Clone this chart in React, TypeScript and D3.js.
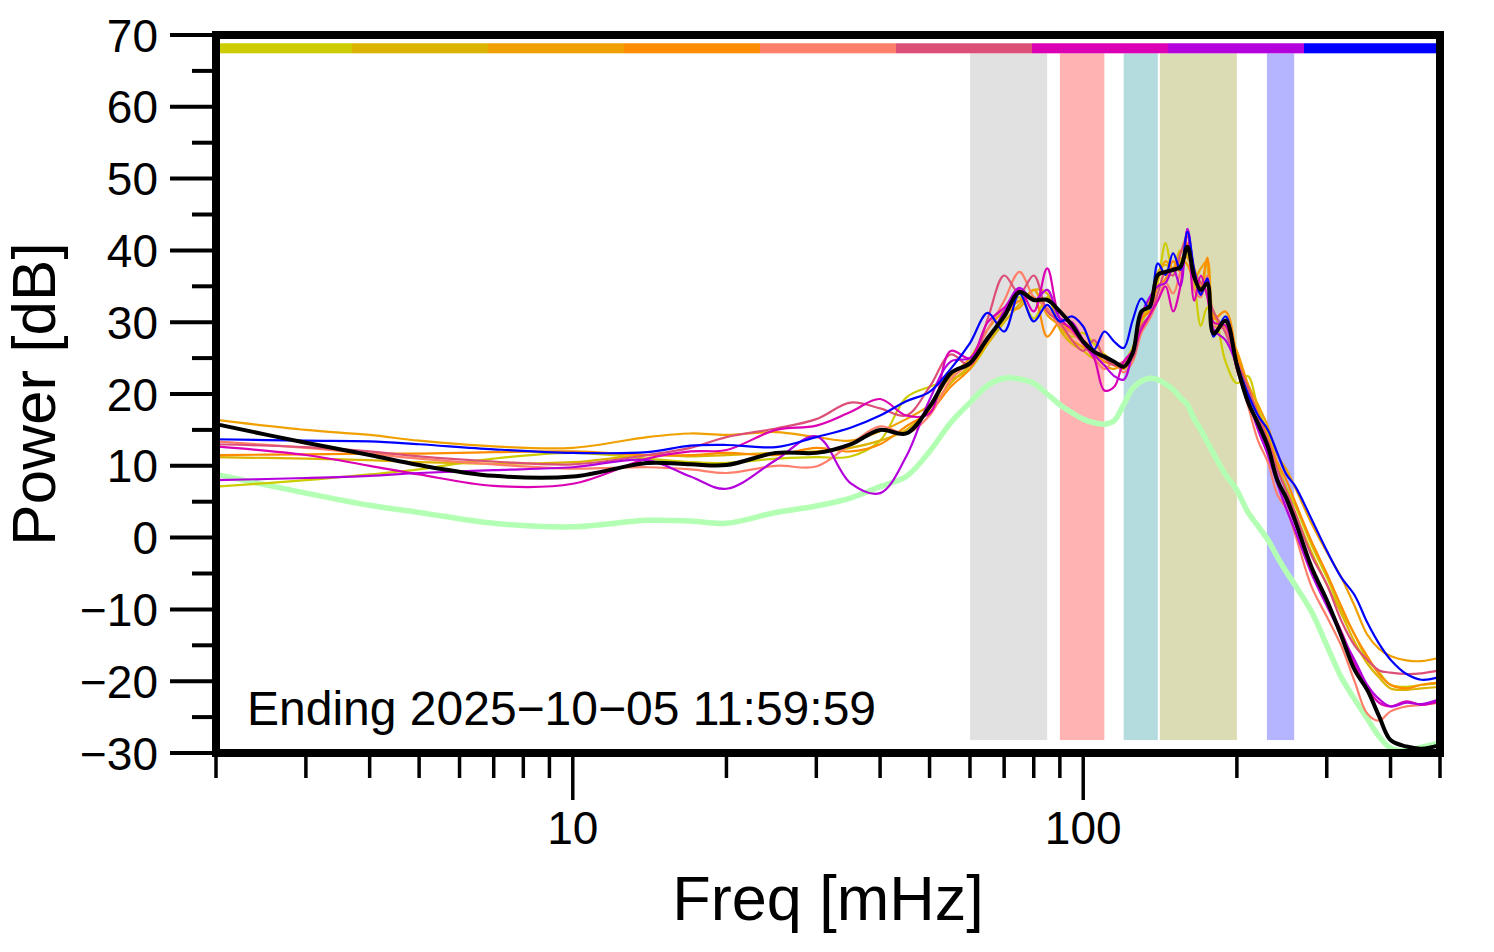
import * as d3 from 'd3';

// frequency grid [mHz] shared by all spectra
const FREQ = [
  2, 3, 4, 5, 7, 10, 14, 17, 20, 25, 30, 35, 40, 45, 50, 55, 60, 65, 70, 75,
  80, 85, 90, 95, 100, 105, 110, 115, 120, 125, 130, 135, 140, 145, 150, 155, 160, 165, 170, 175,
  180, 190, 200, 210, 220, 230, 240, 250, 260, 280, 300, 320, 340, 360, 380, 400, 430, 460, 500,
];

// daily spectra [dB], oldest first
const DAY_1 = [
  7.1, 8.0, 8.8, 9.5, 11.0, 11.8, 11.0, 10.5, 10.4, 11.0, 11.2, 11.3, 13.5, 19.5, 21.0, 22.0, 23.5, 27.0, 30.5, 33.5,
  30.5, 33.5, 29.5, 28.0, 28.5, 27.0, 25.5, 24.0, 24.5, 26.5, 30.0, 32.0, 35.5, 41.0, 37.0, 38.5, 39.5, 35.5, 29.5, 32.0,
  31.5, 24.5, 21.5, 22.5, 18.0, 14.5, 10.0, 7.0, 4.5, -1.0, -5.5, -10.0, -13.5, -17.0, -18.8, -20.5, -20.8, -20.5, -20.3,
];
const DAY_2 = [
  11.2, 11.0, 10.8, 10.5, 10.3, 10.5, 11.5, 11.3, 11.5, 11.8, 12.0, 12.5, 13.5, 15.0, 18.0, 21.5, 24.0, 27.0, 30.0, 32.5,
  34.5, 34.0, 29.0, 27.0, 26.0, 25.0, 25.5, 24.0, 24.0, 26.0, 30.5, 32.5, 37.0, 38.0, 37.5, 40.0, 39.0, 37.0, 34.0, 38.5,
  30.0, 29.5, 24.5, 20.5, 17.0, 13.5, 10.0, 6.5, 3.5, -2.0, -6.5, -10.5, -14.5, -17.5, -19.5, -21.0, -21.2, -21.0, -20.8,
];
const DAY_3 = [
  16.4, 15.0, 14.3, 13.5, 12.7, 12.5, 14.0, 14.5, 14.3, 14.7, 14.0, 13.5, 14.8, 16.5, 18.5, 22.5, 25.0, 29.0, 31.5, 32.0,
  34.5, 31.0, 29.5, 27.5, 26.5, 25.5, 24.0, 23.5, 24.5, 26.0, 31.0, 33.0, 36.0, 38.5, 37.5, 39.0, 38.0, 36.0, 37.5, 38.5,
  31.0, 29.0, 26.0, 21.5, 18.5, 15.5, 11.5, 9.5, 7.0, 2.0, -2.0, -5.5, -9.5, -13.5, -15.5, -16.5, -17.1, -17.2, -16.7,
];
const DAY_4 = [
  11.5, 11.6, 11.7, 11.7, 11.9, 12.0, 11.5, 11.5, 11.8, 11.5, 12.5, 12.0, 13.0, 15.5, 17.5, 21.0, 23.5, 27.5, 31.0, 33.0,
  33.5, 28.0, 30.0, 28.5, 27.5, 26.0, 24.5, 24.0, 23.5, 25.0, 30.5, 31.5, 35.0, 36.0, 38.5, 37.0, 41.0, 37.5, 35.0, 39.0,
  30.5, 31.5, 25.5, 21.0, 17.5, 14.0, 10.5, 8.0, 5.0, -0.5, -5.0, -9.5, -13.5, -16.5, -19.0, -20.5, -21.0, -20.5, -20.2,
];
const DAY_5 = [
  13.4, 12.5, 11.7, 11.0, 10.2, 9.6, 9.8, 9.5, 9.0, 10.0, 9.9, 13.0, 15.5, 14.5, 17.0, 22.0, 24.5, 29.0, 33.0, 37.0,
  33.5, 32.0, 29.5, 28.5, 27.0, 25.0, 23.5, 24.5, 23.0, 24.5, 28.5, 30.5, 33.0, 35.5, 34.0, 37.0, 40.0, 34.5, 33.5, 36.5,
  29.5, 29.0, 23.5, 18.5, 13.5, 10.5, 6.0, 4.0, 0.5, -6.8, -11.0, -15.0, -20.0, -24.5, -25.5, -24.2, -23.5, -23.3, -23.0,
];
const DAY_6 = [
  13.0, 12.6, 12.0, 11.3, 10.6, 10.2, 11.5, 12.5, 14.0, 15.2, 16.5, 18.8, 18.0, 17.0, 21.0, 25.5, 24.0, 30.5, 36.5, 34.0,
  36.5, 31.5, 30.0, 27.5, 26.0, 27.5, 25.0, 24.0, 24.5, 25.0, 29.5, 31.0, 34.0, 37.0, 36.5, 39.5, 42.0, 37.0, 35.5, 34.0,
  31.5, 28.5, 24.5, 21.0, 17.0, 13.5, 9.5, 6.5, 3.5, -2.5, -6.5, -11.5, -15.0, -17.0, -18.5, -18.8, -19.0, -18.9, -18.5,
];
const DAY_7 = [
  12.7, 11.5, 10.0, 8.8, 7.2, 7.5, 11.0, 12.0, 12.2, 15.0, 15.6, 17.5, 19.3, 17.0, 17.3, 26.0, 25.0, 30.0, 32.0, 34.5,
  31.5, 37.5, 30.5, 29.0, 27.0, 25.0, 20.5, 21.0, 24.5, 26.0, 29.0, 31.0, 33.0, 35.0, 31.5, 35.0, 42.5, 33.0, 36.5, 33.5,
  30.0, 29.5, 23.5, 19.0, 16.0, 12.0, 8.5, 5.0, 2.0, -4.5, -9.0, -13.0, -17.5, -21.0, -23.0, -23.5, -22.8, -23.3, -22.8,
];
const DAY_8 = [
  8.0, 8.3, 8.6, 9.0, 9.4, 9.8, 10.8, 8.5, 6.8, 10.8, 14.1, 7.6, 6.2, 11.3, 19.2, 24.5, 25.0, 27.5, 31.5, 34.8,
  33.0, 34.5, 30.5, 30.0, 27.5, 25.5, 24.0, 22.5, 22.0, 26.0, 31.0, 33.5, 35.0, 35.5, 37.5, 35.0, 43.0, 37.0, 34.0, 36.0,
  29.0, 27.5, 24.0, 19.5, 15.0, 11.5, 7.5, 4.0, 1.0, -5.0, -9.5, -13.5, -17.0, -20.5, -22.5, -23.5, -23.0, -23.2, -22.5,
];
const DAY_9 = [
  13.7, 13.5, 13.4, 13.0, 12.3, 11.8, 11.9, 12.8, 12.9, 12.6, 14.0, 15.3, 17.0, 19.0, 20.3, 23.5, 27.1, 31.3, 28.7, 34.0,
  30.1, 32.4, 30.1, 30.8, 29.4, 26.2, 28.7, 27.3, 26.4, 30.3, 33.3, 31.9, 38.2, 36.6, 39.6, 37.3, 42.6, 37.3, 33.8, 36.1,
  28.0, 30.8, 24.3, 20.1, 17.0, 15.0, 11.8, 8.8, 7.2, 2.6, -1.8, -5.5, -8.0, -11.8, -14.8, -17.0, -19.0, -19.8, -19.4,
];

// average over the period
const MEAN = [
  15.8, 13.2, 11.5, 10.1, 8.6, 8.5, 10.4, 10.2, 10.1, 11.8, 11.8, 13.0, 15.0, 14.5, 18.2, 22.9, 24.3, 27.8, 30.8, 34.2,
  33.1, 33.1, 31.5, 29.6, 27.3, 25.9, 25.2, 24.5, 23.8, 25.7, 31.5, 32.2, 36.6, 37.0, 37.3, 37.7, 40.5, 36.3, 34.5, 35.4,
  28.4, 30.2, 24.0, 19.0, 15.9, 12.7, 8.0, 5.5, 2.4, -4.1, -8.7, -13.6, -18.4, -21.2, -24.9, -28.2, -29.1, -29.4, -28.9,
];

// reference (quiet) spectrum
const QUIET = [
  8.8, 6.2, 4.5, 3.5, 2.0, 1.5, 2.4, 2.3, 2.0, 3.5, 4.4, 5.5, 7.1, 8.5, 12.0, 16.0, 18.8, 21.2, 22.2, 22.1,
  21.5, 20.0, 18.5, 17.4, 16.5, 16.0, 15.8, 16.3, 18.5, 20.8, 21.8, 22.2, 22.0, 21.4, 20.6, 19.5, 18.5, 16.5, 15.0, 13.3,
  11.7, 8.8, 6.6, 3.6, 1.6, -0.3, -2.7, -4.8, -6.6, -10.3, -15.0, -19.4, -22.5, -25.2, -27.7, -29.3, -29.7, -29.2, -28.6,
];

const DAYS = [DAY_1, DAY_2, DAY_3, DAY_4, DAY_5, DAY_6, DAY_7, DAY_8, DAY_9];
const DAY_COLORS = [
  '#cccc00', '#dcb400', '#f0a000', '#ff8c00', '#ff7f6a', '#dc5078', '#dc00b4', '#b400dc', '#0000ff',
];

// frequency bands [mHz]
const BAND_LO = [60, 90, 120, 141.3, 229];
const BAND_HI = [85, 110, 140, 200, 259];
const BAND_COLORS = ['#e1e1e1', '#ffb3b3', '#b4dcdf', '#dbdbb4', '#b4b4ff'];

const Y_MAJOR = d3.range(-30, 71, 10);
const Y_MINOR = d3.range(-25, 70, 10);
const X_LABELS = [10, 100];

const FONT = 'Liberation Sans, Arial, Helvetica, sans-serif';

export default function App() {
  const width = 1494;
  const height = 952;

  const x = d3.scaleLog().domain([2, 500]).range([216, 1440]);
  const y = d3.scaleLinear().domain([-30, 70]).range([753, 35]);
  const [x0, x1] = x.range();
  const [yb, yt] = y.range();

  const line = d3.line<number>()
    .x((_, i) => x(FREQ[i]))
    .y(d => y(d))
    .curve(d3.curveCatmullRom.alpha(0.5));

  const xTicks = x.ticks();
  const isMajor = (f: number) => Math.abs(Math.log10(f) - Math.round(Math.log10(f))) < 1e-9;

  // top colour bar, one segment per day
  const segW = (x1 - x0) / DAY_COLORS.length;

  const fmt = (v: number) => (v < 0 ? `\u2212${Math.abs(v)}` : `${v}`);

  return (
    <svg
      width={width}
      height={height}
      style={{ position: 'absolute', left: 0, top: 0, background: '#fff' }}
      fontFamily={FONT}
    >
      {/* bands */}
      {BAND_LO.map((lo, i) => (
        <rect
          key={`band-${i}`}
          x={x(lo)}
          width={x(BAND_HI[i]) - x(lo)}
          y={y(67.45)}
          height={y(-28.2) - y(67.45)}
          fill={BAND_COLORS[i]}
        />
      ))}

      {/* day colour bar */}
      {DAY_COLORS.map((c, i) => (
        <rect
          key={`seg-${i}`}
          x={x0 + i * segW}
          width={segW}
          y={y(68.85)}
          height={y(67.45) - y(68.85)}
          fill={c}
        />
      ))}

      {/* quiet reference */}
      <path d={line(QUIET) ?? ''} fill="none" stroke="#b3ffb3" strokeWidth={5.5} strokeLinejoin="round" />

      {/* daily spectra */}
      {DAYS.map((vals, i) => (
        <path
          key={`day-${i}`}
          d={line(vals) ?? ''}
          fill="none"
          stroke={DAY_COLORS[i]}
          strokeWidth={2.2}
          strokeLinejoin="round"
        />
      ))}

      {/* mean */}
      <path d={line(MEAN) ?? ''} fill="none" stroke="#000" strokeWidth={4} strokeLinejoin="round" />

      {/* frame */}
      <rect x={x0} y={yt} width={x1 - x0} height={yb - yt} fill="none" stroke="#000" strokeWidth={8} />

      {/* y axis */}
      {Y_MAJOR.map(v => (
        <g key={`ym-${v}`}>
          <line x1={x0 - 46} x2={x0} y1={y(v)} y2={y(v)} stroke="#000" strokeWidth={4} />
          <text x={x0 - 58} y={y(v) + 16.5} textAnchor="end" fontSize={46}>{fmt(v)}</text>
        </g>
      ))}
      {Y_MINOR.map(v => (
        <line key={`yn-${v}`} x1={x0 - 24} x2={x0} y1={y(v)} y2={y(v)} stroke="#000" strokeWidth={4} />
      ))}

      {/* x axis */}
      {xTicks.map(f => (
        <line
          key={`xt-${f}`}
          x1={x(f)}
          x2={x(f)}
          y1={yb}
          y2={yb + (isMajor(f) ? 47 : 25)}
          stroke="#000"
          strokeWidth={3.5}
        />
      ))}
      {X_LABELS.map(f => (
        <text key={`xl-${f}`} x={x(f)} y={844} textAnchor="middle" fontSize={46}>{f}</text>
      ))}

      {/* titles */}
      <text x={(x0 + x1) / 2} y={920} textAnchor="middle" fontSize={63}>Freq [mHz]</text>
      <text
        transform={`translate(55,${(yb + yt) / 2}) rotate(-90)`}
        textAnchor="middle"
        fontSize={62}
      >
        Power [dB]
      </text>

      <text x={247} y={725} fontSize={48}>Ending 2025{'\u2212'}10{'\u2212'}05 11:59:59</text>
    </svg>
  );
}
